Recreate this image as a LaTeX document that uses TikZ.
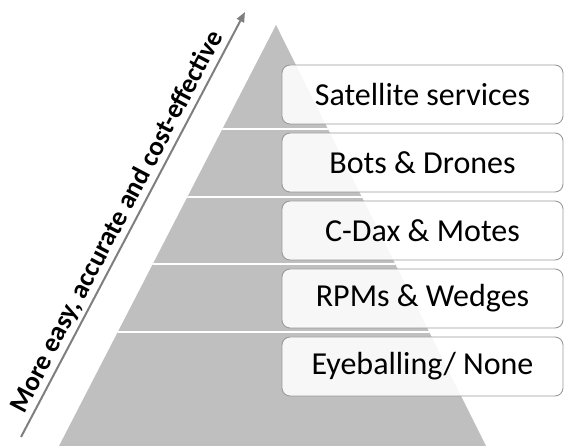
\documentclass[tikz,border=0pt]{standalone}
\usepackage{fontspec}
\setmainfont{Carlito}
\usetikzlibrary{arrows.meta}
\definecolor{trigray}{HTML}{BFBFBF}
\definecolor{boxgray}{HTML}{9A9A9A}
\definecolor{arrowgray}{HTML}{7F7F7F}
\begin{document}
\begin{tikzpicture}[x=1pt,y=1pt,
  levelbox/.style={draw=boxgray, line width=0.9pt, rounded corners=8pt,
    fill=white, fill opacity=0.88, text opacity=1,
    minimum width=281pt, minimum height=59pt, inner sep=0pt,
    font=\fontsize{32}{36}\selectfont},
  sepline/.style={draw=white, line width=1.6pt},
  arrowline/.style={draw=arrowgray, line width=2pt,
    -{Triangle[length=10pt,width=8pt]}},
  arrowtext/.style={sloped, above, inner sep=2.5pt, text=black,
    font=\bfseries\fontsize{27}{30}\selectfont}]
\useasboundingbox (0,0) rectangle (572,446);
\coordinate (apex) at (276,421);
\coordinate (bl) at (59,0);
\coordinate (br) at (486,0);
\fill[trigray] (apex) -- (br) -- (bl) -- cycle;
\begin{scope}
  \clip (apex) -- (br) -- (bl) -- cycle;
  \foreach \y in {317,249,182,114} \draw[sepline] (0,\y) -- (572,\y);
\end{scope}
\node[levelbox] (sat) at (422.5,351.5) {Satellite services};
\node[levelbox] (bots) at (422.5,283.5) {Bots \& Drones};
\node[levelbox] (cdax) at (422.5,215.5) {C-Dax \& Motes};
\node[levelbox] (rpm) at (422.5,147.5) {RPMs \& Wedges};
\node[levelbox] (eye) at (422.5,79.5) {Eyeballing/ None};
\coordinate (atail) at (21,9);
\coordinate (ahead) at (245,434);
\draw[arrowline] (atail) -- node[arrowtext, pos=0.49] {More easy, accurate and cost-effective} (ahead);
\end{tikzpicture}
\end{document}
